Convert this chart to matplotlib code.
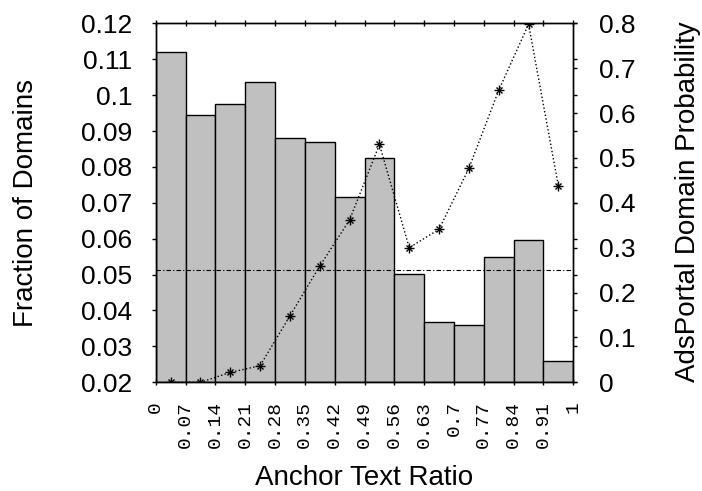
import numpy as np
import matplotlib
matplotlib.use('Agg')
import matplotlib.pyplot as plt

plt.rcParams['font.family'] = ['Liberation Sans', 'DejaVu Sans']

# fraction of domains per anchor text ratio bin (left axis)
fraction = [0.1120, 0.0945, 0.0974, 0.1037, 0.0880, 0.0870, 0.0717,
            0.0824, 0.0501, 0.0367, 0.0359, 0.0550, 0.0596, 0.0258]
# adsportal probability per bin (right axis)
prob = [0.0, 0.0, 0.022, 0.037, 0.148, 0.259, 0.362,
        0.530, 0.300, 0.341, 0.477, 0.651, 0.798, 0.437]
overall = 0.0513   # dash-dot reference line (left axis)

xtick_labels = ['0', '0.07', '0.14', '0.21', '0.28', '0.35', '0.42', '0.49',
                '0.56', '0.63', '0.7', '0.77', '0.84', '0.91', '1']
left_ticks = [0.02, 0.03, 0.04, 0.05, 0.06, 0.07, 0.08, 0.09, 0.1, 0.11, 0.12]
left_labels = ['0.02', '0.03', '0.04', '0.05', '0.06', '0.07', '0.08', '0.09',
               '0.1', '0.11', '0.12']
right_ticks = [0, 0.1, 0.2, 0.3, 0.4, 0.5, 0.6, 0.7, 0.8]
right_labels = ['0', '0.1', '0.2', '0.3', '0.4', '0.5', '0.6', '0.7', '0.8']

nbins = len(fraction)
w = 1.0 / nbins
edges = np.arange(nbins) * w
centers = edges + w / 2

fig = plt.figure(figsize=(7.02, 4.91), dpi=100)
ax = fig.add_axes([0.2218, 0.2214, 0.5949, 0.7311])
ax2 = ax.twinx()

ax.bar(edges, np.array(fraction) - 0.02, bottom=0.02, width=w, align='edge',
       color='#c0c0c0', edgecolor='black', linewidth=1.0, zorder=2)
ax.axhline(overall, color='black', linestyle='-.', linewidth=0.8,
           dashes=(4, 2, 1, 2), zorder=3)

ax2.plot(centers, prob, color='black', linestyle=':', linewidth=1.0, zorder=4)
ax2.plot(centers, prob, linestyle='none', marker='+', color='black',
         markersize=7, markeredgewidth=1.0, zorder=5)
ax2.plot(centers, prob, linestyle='none', marker='x', color='black',
         markersize=5, markeredgewidth=1.0, zorder=5)

ax.set_xlim(0, 1)
ax.set_ylim(0.02, 0.12)
ax2.set_ylim(0, 0.8)

ax.set_xticks(np.arange(len(xtick_labels)) * w)
ax.set_xticklabels(xtick_labels, rotation=90, family='Liberation Mono',
                   fontsize=14, va='top', ha='center')
ax.set_yticks(left_ticks)
ax.set_yticklabels(left_labels, fontsize=19)
ax2.set_yticks(right_ticks)
ax2.set_yticklabels(right_labels, fontsize=19)

ax.tick_params(axis='x', direction='inout', length=5, width=1, pad=11, top=True)
ax.tick_params(axis='y', direction='out', length=3, width=1, pad=14, right=True)
ax2.tick_params(axis='y', direction='out', length=3, width=1, pad=15.5)

for a in (ax, ax2):
    for s in a.spines.values():
        s.set_linewidth(1.0)

fig.text(33 / 702, 0.587, 'Fraction of Domains', rotation=90, fontsize=20,
         ha='center', va='baseline', rotation_mode='anchor')
fig.text(695 / 702, 0.589, 'AdsPortal Domain Probability', rotation=90,
         fontsize=20, ha='center', va='baseline', rotation_mode='anchor')
fig.text(364.5 / 702, 1 - 485 / 491, 'Anchor Text Ratio', fontsize=20,
         ha='center', va='baseline')

fig.savefig('out.png', dpi=100)
